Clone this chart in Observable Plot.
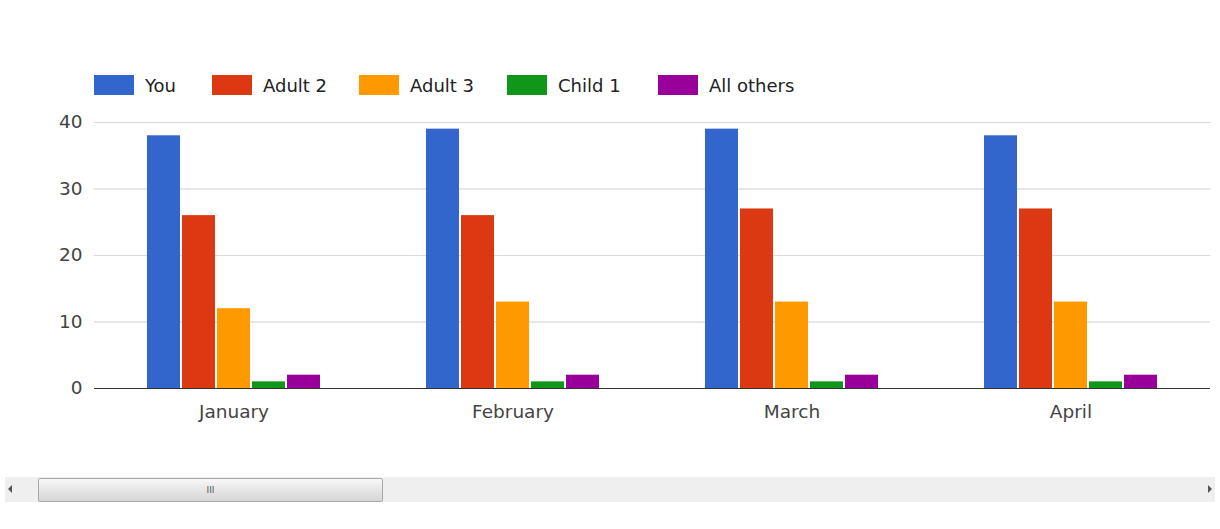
<!DOCTYPE html>
<html>
<head>
<meta charset="utf-8">
<script src="https://cdn.jsdelivr.net/npm/d3@7"></script>
<script src="https://cdn.jsdelivr.net/npm/@observablehq/plot@0.6"></script>
<style>
  html, body { margin: 0; padding: 0; background: #fff; width: 1220px; height: 529px; overflow: hidden; }
  body { font-family: "DejaVu Sans", sans-serif; position: relative; }
  #legend { position: absolute; left: 0; top: 0; width: 1220px; height: 105px; }
  .item { position: absolute; top: 75px; height: 20px; display: flex; align-items: center; font-size: 18px; color: #222; }
  .sw { width: 40px; height: 20px; margin-right: 11px; }
  #chart { position: absolute; left: 0; top: 105px; }
  #scroll { position: absolute; left: 5px; top: 477px; width: 1210px; height: 25px; background: #efefef; }
  #thumb { position: absolute; left: 33px; top: 1px; width: 343px; height: 22px; border: 1px solid #a8a8a8; border-radius: 2px;
           background: linear-gradient(#f8f8f8, #e6e6e6 50%, #d6d6d6); font-size: 9px; color: #555; text-align: center; line-height: 22px; }
  .arr { position: absolute; top: 8px; width: 0; height: 0; border-top: 4px solid transparent; border-bottom: 4px solid transparent; }
  #al { left: 3px; border-right: 4px solid #555; }
  #ar { right: 3px; border-left: 4px solid #555; }
</style>
</head>
<body>
<div id="legend"></div>
<div id="chart"></div>
<div id="scroll"><div class="arr" id="al"></div><div id="thumb">III</div><div class="arr" id="ar"></div></div>
<script>
const months = ["January", "February", "March", "April"];
const series = ["You", "Adult 2", "Adult 3", "Child 1", "All others"];
const colors = ["#3366cc", "#dc3912", "#ff9900", "#109618", "#990099"];
const youValues = [38, 39, 39, 38];
const adult2Values = [26, 26, 27, 27];
const adult3Values = [12, 13, 13, 13];
const child1Values = [1, 1, 1, 1];
const allOthersValues = [2, 2, 2, 2];
const yTicks = [0, 10, 20, 30, 40];

const seriesValues = [youValues, adult2Values, adult3Values, child1Values, allOthersValues];
const table = [];
months.forEach((m, i) => {
  series.forEach((s, j) => table.push({month: m, series: s, value: seriesValues[j][i]}));
});

// legend
const legendX = [94, 212, 359, 507, 658];
const legend = document.getElementById("legend");
series.forEach((s, j) => {
  const d = document.createElement("div");
  d.className = "item";
  d.style.left = legendX[j] + "px";
  d.innerHTML = `<span class="sw" style="background:${colors[j]}"></span><span>${s}</span>`;
  legend.appendChild(d);
});

const chart = Plot.plot({
  width: 1220,
  height: 323,
  marginLeft: 93,
  marginRight: 9,
  marginTop: 17,
  marginBottom: 40,
  style: {fontFamily: "'DejaVu Sans', sans-serif", fontSize: "18.5px", color: "#444", background: "white"},
  facet: {data: table, x: "month"},
  fx: {domain: months, padding: 0, tickSize: 0, tickPadding: 16, label: null},
  x: {domain: series, axis: null, paddingInner: 0.05, paddingOuter: 1.5},
  y: {domain: [0, 40], ticks: yTicks, tickSize: 0, tickPadding: 12, grid: true, label: null},
  color: {domain: series, range: colors},
  marks: [
    Plot.ruleY(yTicks.slice(1), {stroke: "#d9d9d9", strokeOpacity: 1}),
    Plot.barY(table, {x: "series", y: "value", fill: "series"}),
    Plot.ruleY([0], {stroke: "#333", strokeWidth: 1})
  ]
});
document.getElementById("chart").appendChild(chart);
</script>
</body>
</html>
